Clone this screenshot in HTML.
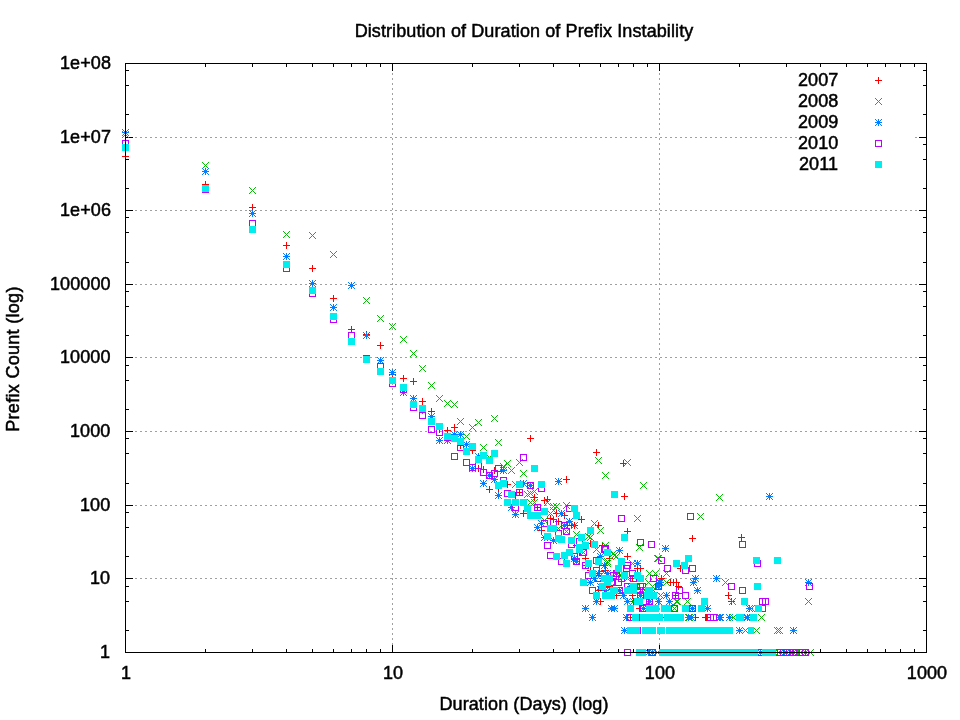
<!DOCTYPE html>
<html><head><meta charset="utf-8"><title>Distribution of Duration of Prefix Instability</title>
<style>
html,body{margin:0;padding:0;background:#fff;}
body{width:960px;height:720px;position:relative;overflow:hidden;font-family:"Liberation Sans",sans-serif;font-size:18.00px;color:#000;letter-spacing:0.1px;-webkit-text-stroke:0.5px #000;}
div{will-change:transform;}
</style></head><body>
<svg width="960" height="720" viewBox="0 0 960 720" shape-rendering="crispEdges" style="position:absolute;left:0;top:0">
<defs>
<g id="p"><rect x="-3" y="0" width="7" height="1"/><rect x="0" y="-3" width="1" height="7"/></g>
<g id="x"><rect x="-3" y="-3" width="1" height="1"/><rect x="-3" y="3" width="1" height="1"/><rect x="-2" y="-2" width="1" height="1"/><rect x="-2" y="2" width="1" height="1"/><rect x="-1" y="-1" width="1" height="1"/><rect x="-1" y="1" width="1" height="1"/><rect x="0" y="0" width="1" height="1"/><rect x="0" y="0" width="1" height="1"/><rect x="1" y="1" width="1" height="1"/><rect x="1" y="-1" width="1" height="1"/><rect x="2" y="2" width="1" height="1"/><rect x="2" y="-2" width="1" height="1"/><rect x="3" y="3" width="1" height="1"/><rect x="3" y="-3" width="1" height="1"/></g>
<g id="s"><use href="#p"/><use href="#x"/></g>
<g id="o"><rect x="-3" y="-3" width="7" height="1"/><rect x="-3" y="3" width="7" height="1"/><rect x="-3" y="-3" width="1" height="7"/><rect x="3" y="-3" width="1" height="7"/></g>
<g id="f"><rect x="-3" y="-3" width="7" height="7"/></g>
</defs>
<g stroke="#a0a0a0" stroke-width="1" stroke-dasharray="2 3" fill="none"><line x1="125" y1="578.5" x2="926" y2="578.5"/><line x1="125" y1="505.5" x2="926" y2="505.5"/><line x1="125" y1="431.5" x2="926" y2="431.5"/><line x1="125" y1="357.5" x2="926" y2="357.5"/><line x1="125" y1="284.5" x2="926" y2="284.5"/><line x1="125" y1="210.5" x2="926" y2="210.5"/><line x1="125" y1="137.5" x2="926" y2="137.5"/><line x1="392.5" y1="63" x2="392.5" y2="652"/><line x1="659.5" y1="63" x2="659.5" y2="652"/></g>
<rect x="798" y="137" width="117" height="1" fill="#fff"/>
<g fill="#000"><rect x="125" y="652" width="8" height="1"/><rect x="919" y="652" width="8" height="1"/><rect x="125" y="630" width="4" height="1"/><rect x="923" y="630" width="4" height="1"/><rect x="125" y="601" width="4" height="1"/><rect x="923" y="601" width="4" height="1"/><rect x="125" y="586" width="4" height="1"/><rect x="923" y="586" width="4" height="1"/><rect x="125" y="578" width="8" height="1"/><rect x="919" y="578" width="8" height="1"/><rect x="125" y="556" width="4" height="1"/><rect x="923" y="556" width="4" height="1"/><rect x="125" y="527" width="4" height="1"/><rect x="923" y="527" width="4" height="1"/><rect x="125" y="512" width="4" height="1"/><rect x="923" y="512" width="4" height="1"/><rect x="125" y="505" width="8" height="1"/><rect x="919" y="505" width="8" height="1"/><rect x="125" y="483" width="4" height="1"/><rect x="923" y="483" width="4" height="1"/><rect x="125" y="453" width="4" height="1"/><rect x="923" y="453" width="4" height="1"/><rect x="125" y="438" width="4" height="1"/><rect x="923" y="438" width="4" height="1"/><rect x="125" y="431" width="8" height="1"/><rect x="919" y="431" width="8" height="1"/><rect x="125" y="409" width="4" height="1"/><rect x="923" y="409" width="4" height="1"/><rect x="125" y="380" width="4" height="1"/><rect x="923" y="380" width="4" height="1"/><rect x="125" y="365" width="4" height="1"/><rect x="923" y="365" width="4" height="1"/><rect x="125" y="357" width="8" height="1"/><rect x="919" y="357" width="8" height="1"/><rect x="125" y="335" width="4" height="1"/><rect x="923" y="335" width="4" height="1"/><rect x="125" y="306" width="4" height="1"/><rect x="923" y="306" width="4" height="1"/><rect x="125" y="291" width="4" height="1"/><rect x="923" y="291" width="4" height="1"/><rect x="125" y="284" width="8" height="1"/><rect x="919" y="284" width="8" height="1"/><rect x="125" y="262" width="4" height="1"/><rect x="923" y="262" width="4" height="1"/><rect x="125" y="232" width="4" height="1"/><rect x="923" y="232" width="4" height="1"/><rect x="125" y="217" width="4" height="1"/><rect x="923" y="217" width="4" height="1"/><rect x="125" y="210" width="8" height="1"/><rect x="919" y="210" width="8" height="1"/><rect x="125" y="188" width="4" height="1"/><rect x="923" y="188" width="4" height="1"/><rect x="125" y="159" width="4" height="1"/><rect x="923" y="159" width="4" height="1"/><rect x="125" y="144" width="4" height="1"/><rect x="923" y="144" width="4" height="1"/><rect x="125" y="137" width="8" height="1"/><rect x="919" y="137" width="8" height="1"/><rect x="125" y="114" width="4" height="1"/><rect x="923" y="114" width="4" height="1"/><rect x="125" y="85" width="4" height="1"/><rect x="923" y="85" width="4" height="1"/><rect x="125" y="70" width="4" height="1"/><rect x="923" y="70" width="4" height="1"/><rect x="125" y="63" width="8" height="1"/><rect x="919" y="63" width="8" height="1"/><rect x="125" y="645" width="1" height="8"/><rect x="125" y="63" width="1" height="8"/><rect x="205" y="649" width="1" height="4"/><rect x="205" y="63" width="1" height="4"/><rect x="252" y="649" width="1" height="4"/><rect x="252" y="63" width="1" height="4"/><rect x="286" y="649" width="1" height="4"/><rect x="286" y="63" width="1" height="4"/><rect x="312" y="649" width="1" height="4"/><rect x="312" y="63" width="1" height="4"/><rect x="333" y="649" width="1" height="4"/><rect x="333" y="63" width="1" height="4"/><rect x="351" y="649" width="1" height="4"/><rect x="351" y="63" width="1" height="4"/><rect x="366" y="649" width="1" height="4"/><rect x="366" y="63" width="1" height="4"/><rect x="380" y="649" width="1" height="4"/><rect x="380" y="63" width="1" height="4"/><rect x="392" y="645" width="1" height="8"/><rect x="392" y="63" width="1" height="8"/><rect x="472" y="649" width="1" height="4"/><rect x="472" y="63" width="1" height="4"/><rect x="519" y="649" width="1" height="4"/><rect x="519" y="63" width="1" height="4"/><rect x="553" y="649" width="1" height="4"/><rect x="553" y="63" width="1" height="4"/><rect x="579" y="649" width="1" height="4"/><rect x="579" y="63" width="1" height="4"/><rect x="600" y="649" width="1" height="4"/><rect x="600" y="63" width="1" height="4"/><rect x="618" y="649" width="1" height="4"/><rect x="618" y="63" width="1" height="4"/><rect x="633" y="649" width="1" height="4"/><rect x="633" y="63" width="1" height="4"/><rect x="647" y="649" width="1" height="4"/><rect x="647" y="63" width="1" height="4"/><rect x="659" y="645" width="1" height="8"/><rect x="659" y="63" width="1" height="8"/><rect x="739" y="649" width="1" height="4"/><rect x="739" y="63" width="1" height="4"/><rect x="786" y="649" width="1" height="4"/><rect x="786" y="63" width="1" height="4"/><rect x="820" y="649" width="1" height="4"/><rect x="820" y="63" width="1" height="4"/><rect x="846" y="649" width="1" height="4"/><rect x="846" y="63" width="1" height="4"/><rect x="867" y="649" width="1" height="4"/><rect x="867" y="63" width="1" height="4"/><rect x="885" y="649" width="1" height="4"/><rect x="885" y="63" width="1" height="4"/><rect x="900" y="649" width="1" height="4"/><rect x="900" y="63" width="1" height="4"/><rect x="914" y="649" width="1" height="4"/><rect x="914" y="63" width="1" height="4"/><rect x="926" y="645" width="1" height="8"/><rect x="926" y="63" width="1" height="8"/></g>
<g fill="#ff0000"><use href="#p" x="125" y="156"/><use href="#p" x="205" y="184"/><use href="#p" x="252" y="207"/><use href="#p" x="286" y="245"/><use href="#p" x="312" y="268"/><use href="#p" x="333" y="298"/><use href="#p" x="351" y="329"/><use href="#p" x="366" y="334"/><use href="#p" x="380" y="345"/><use href="#p" x="392" y="374"/><use href="#p" x="403" y="378"/><use href="#p" x="413" y="381"/><use href="#p" x="422" y="401"/><use href="#p" x="431" y="411"/><use href="#p" x="439" y="429"/><use href="#p" x="447" y="430"/><use href="#p" x="454" y="427"/><use href="#p" x="460" y="445"/><use href="#p" x="472" y="450"/><use href="#p" x="478" y="468"/><use href="#p" x="483" y="469"/><use href="#p" x="489" y="489"/><use href="#p" x="494" y="470"/><use href="#p" x="498" y="488"/><use href="#p" x="503" y="470"/><use href="#p" x="507" y="484"/><use href="#p" x="515" y="495"/><use href="#p" x="519" y="492"/><use href="#p" x="523" y="513"/><use href="#p" x="530" y="438"/><use href="#p" x="534" y="497"/><use href="#p" x="537" y="507"/><use href="#p" x="541" y="530"/><use href="#p" x="544" y="500"/><use href="#p" x="547" y="499"/><use href="#p" x="550" y="518"/><use href="#p" x="553" y="519"/><use href="#p" x="556" y="513"/><use href="#p" x="558" y="521"/><use href="#p" x="564" y="515"/><use href="#p" x="566" y="479"/><use href="#p" x="571" y="525"/><use href="#p" x="581" y="519"/><use href="#p" x="596" y="452"/><use href="#p" x="598" y="525"/><use href="#p" x="623" y="463"/><use href="#p" x="624" y="496"/><use href="#p" x="627" y="531"/><use href="#p" x="574" y="525"/><use href="#p" x="590" y="543"/><use href="#p" x="602" y="545"/><use href="#p" x="585" y="558"/><use href="#p" x="609" y="558"/><use href="#p" x="605" y="570"/><use href="#p" x="609" y="586"/><use href="#p" x="627" y="556"/><use href="#p" x="640" y="568"/><use href="#p" x="637" y="568"/><use href="#p" x="632" y="578"/><use href="#p" x="661" y="578"/><use href="#p" x="673" y="582"/><use href="#p" x="676" y="582"/><use href="#p" x="678" y="586"/><use href="#p" x="680" y="568"/><use href="#p" x="692" y="538"/><use href="#p" x="741" y="537"/><use href="#p" x="728" y="595"/><use href="#p" x="731" y="601"/><use href="#p" x="670" y="582"/><use href="#p" x="675" y="595"/><use href="#p" x="669" y="601"/><use href="#p" x="600" y="601"/><use href="#p" x="616" y="595"/><use href="#p" x="632" y="595"/><use href="#p" x="619" y="590"/><use href="#p" x="633" y="601"/><use href="#p" x="598" y="590"/><use href="#p" x="594" y="578"/><use href="#p" x="590" y="570"/><use href="#p" x="579" y="552"/><use href="#p" x="576" y="545"/><use href="#p" x="585" y="565"/><use href="#p" x="630" y="617"/><use href="#p" x="639" y="617"/><use href="#p" x="648" y="617"/><use href="#p" x="664" y="617"/><use href="#p" x="695" y="617"/><use href="#p" x="705" y="617"/><use href="#p" x="706" y="617"/><use href="#p" x="637" y="630"/><use href="#p" x="725" y="630"/><use href="#p" x="739" y="630"/><use href="#p" x="639" y="608"/></g>
<g fill="#00c000"><use href="#x" x="125" y="134"/><use href="#x" x="205" y="165"/><use href="#x" x="252" y="190"/><use href="#x" x="286" y="234"/><use href="#x" x="312" y="235"/><use href="#x" x="333" y="254"/><use href="#x" x="351" y="285"/><use href="#x" x="366" y="300"/><use href="#x" x="380" y="318"/><use href="#x" x="392" y="326"/><use href="#x" x="403" y="339"/><use href="#x" x="413" y="353"/><use href="#x" x="422" y="368"/><use href="#x" x="431" y="385"/><use href="#x" x="439" y="398"/><use href="#x" x="447" y="403"/><use href="#x" x="454" y="404"/><use href="#x" x="460" y="421"/><use href="#x" x="466" y="436"/><use href="#x" x="472" y="427"/><use href="#x" x="478" y="422"/><use href="#x" x="483" y="447"/><use href="#x" x="489" y="457"/><use href="#x" x="494" y="418"/><use href="#x" x="498" y="442"/><use href="#x" x="503" y="466"/><use href="#x" x="507" y="463"/><use href="#x" x="511" y="470"/><use href="#x" x="515" y="484"/><use href="#x" x="519" y="462"/><use href="#x" x="523" y="473"/><use href="#x" x="527" y="494"/><use href="#x" x="530" y="493"/><use href="#x" x="534" y="491"/><use href="#x" x="598" y="460"/><use href="#x" x="605" y="475"/><use href="#x" x="627" y="462"/><use href="#x" x="637" y="518"/><use href="#x" x="643" y="485"/><use href="#x" x="530" y="502"/><use href="#x" x="534" y="502"/><use href="#x" x="547" y="502"/><use href="#x" x="553" y="506"/><use href="#x" x="556" y="506"/><use href="#x" x="566" y="505"/><use href="#x" x="553" y="510"/><use href="#x" x="550" y="513"/><use href="#x" x="544" y="520"/><use href="#x" x="558" y="528"/><use href="#x" x="566" y="531"/><use href="#x" x="574" y="525"/><use href="#x" x="594" y="523"/><use href="#x" x="600" y="530"/><use href="#x" x="576" y="534"/><use href="#x" x="588" y="536"/><use href="#x" x="590" y="537"/><use href="#x" x="605" y="545"/><use href="#x" x="583" y="552"/><use href="#x" x="596" y="549"/><use href="#x" x="607" y="563"/><use href="#x" x="607" y="561"/><use href="#x" x="614" y="555"/><use href="#x" x="613" y="553"/><use href="#x" x="616" y="556"/><use href="#x" x="639" y="547"/><use href="#x" x="658" y="558"/><use href="#x" x="657" y="558"/><use href="#x" x="632" y="563"/><use href="#x" x="649" y="573"/><use href="#x" x="655" y="573"/><use href="#x" x="666" y="573"/><use href="#x" x="648" y="582"/><use href="#x" x="652" y="586"/><use href="#x" x="666" y="582"/><use href="#x" x="640" y="590"/><use href="#x" x="660" y="595"/><use href="#x" x="677" y="601"/><use href="#x" x="676" y="601"/><use href="#x" x="687" y="601"/><use href="#x" x="674" y="608"/><use href="#x" x="619" y="590"/><use href="#x" x="633" y="601"/><use href="#x" x="627" y="601"/><use href="#x" x="700" y="516"/><use href="#x" x="719" y="497"/><use href="#x" x="725" y="582"/><use href="#x" x="808" y="601"/><use href="#x" x="810" y="652"/><use href="#x" x="732" y="601"/><use href="#x" x="749" y="608"/><use href="#x" x="688" y="617"/><use href="#x" x="691" y="617"/><use href="#x" x="689" y="617"/><use href="#x" x="600" y="575"/><use href="#x" x="604" y="578"/><use href="#x" x="611" y="586"/><use href="#x" x="621" y="575"/><use href="#x" x="627" y="578"/><use href="#x" x="636" y="586"/><use href="#x" x="644" y="590"/><use href="#x" x="653" y="590"/><use href="#x" x="733" y="617"/><use href="#x" x="747" y="617"/><use href="#x" x="761" y="617"/><use href="#x" x="746" y="617"/><use href="#x" x="745" y="630"/><use href="#x" x="756" y="630"/><use href="#x" x="777" y="630"/><use href="#x" x="779" y="630"/><use href="#x" x="778" y="652"/><use href="#x" x="782" y="652"/><use href="#x" x="786" y="652"/><use href="#x" x="790" y="652"/><use href="#x" x="795" y="652"/><use href="#x" x="800" y="652"/><use href="#x" x="805" y="652"/><use href="#x" x="657" y="652"/><use href="#x" x="751" y="608"/></g>
<g fill="#0080ff"><use href="#s" x="125" y="132"/><use href="#s" x="205" y="171"/><use href="#s" x="252" y="213"/><use href="#s" x="286" y="256"/><use href="#s" x="312" y="283"/><use href="#s" x="333" y="307"/><use href="#s" x="351" y="285"/><use href="#s" x="366" y="335"/><use href="#s" x="380" y="360"/><use href="#s" x="392" y="372"/><use href="#s" x="403" y="392"/><use href="#s" x="413" y="398"/><use href="#s" x="422" y="410"/><use href="#s" x="431" y="416"/><use href="#s" x="439" y="440"/><use href="#s" x="447" y="440"/><use href="#s" x="454" y="434"/><use href="#s" x="460" y="434"/><use href="#s" x="466" y="444"/><use href="#s" x="472" y="468"/><use href="#s" x="478" y="456"/><use href="#s" x="483" y="483"/><use href="#s" x="489" y="475"/><use href="#s" x="494" y="479"/><use href="#s" x="498" y="495"/><use href="#s" x="503" y="470"/><use href="#s" x="511" y="507"/><use href="#s" x="515" y="514"/><use href="#s" x="523" y="483"/><use href="#s" x="530" y="485"/><use href="#s" x="537" y="527"/><use href="#s" x="541" y="523"/><use href="#s" x="544" y="537"/><use href="#s" x="553" y="540"/><use href="#s" x="558" y="481"/><use href="#s" x="561" y="513"/><use href="#s" x="564" y="525"/><use href="#s" x="569" y="521"/><use href="#s" x="619" y="550"/><use href="#s" x="637" y="563"/><use href="#s" x="665" y="548"/><use href="#s" x="574" y="558"/><use href="#s" x="576" y="561"/><use href="#s" x="600" y="556"/><use href="#s" x="598" y="573"/><use href="#s" x="590" y="582"/><use href="#s" x="594" y="578"/><use href="#s" x="616" y="573"/><use href="#s" x="585" y="608"/><use href="#s" x="592" y="617"/><use href="#s" x="596" y="601"/><use href="#s" x="611" y="608"/><use href="#s" x="614" y="608"/><use href="#s" x="626" y="617"/><use href="#s" x="624" y="630"/><use href="#s" x="627" y="601"/><use href="#s" x="623" y="595"/><use href="#s" x="619" y="590"/><use href="#s" x="643" y="608"/><use href="#s" x="640" y="595"/><use href="#s" x="649" y="601"/><use href="#s" x="658" y="601"/><use href="#s" x="669" y="601"/><use href="#s" x="666" y="595"/><use href="#s" x="658" y="586"/><use href="#s" x="660" y="582"/><use href="#s" x="659" y="582"/><use href="#s" x="693" y="582"/><use href="#s" x="695" y="578"/><use href="#s" x="697" y="590"/><use href="#s" x="692" y="608"/><use href="#s" x="707" y="608"/><use href="#s" x="688" y="617"/><use href="#s" x="691" y="617"/><use href="#s" x="716" y="578"/><use href="#s" x="769" y="496"/><use href="#s" x="808" y="582"/><use href="#s" x="793" y="630"/><use href="#s" x="652" y="652"/><use href="#s" x="749" y="608"/><use href="#s" x="684" y="630"/><use href="#s" x="706" y="630"/><use href="#s" x="739" y="630"/><use href="#s" x="719" y="617"/><use href="#s" x="729" y="617"/><use href="#s" x="720" y="617"/><use href="#s" x="747" y="617"/><use href="#s" x="760" y="652"/><use href="#s" x="790" y="652"/><use href="#s" x="797" y="652"/><use href="#s" x="784" y="652"/><use href="#s" x="648" y="652"/><use href="#s" x="604" y="565"/><use href="#s" x="607" y="573"/><use href="#s" x="611" y="578"/><use href="#s" x="600" y="586"/><use href="#s" x="605" y="590"/><use href="#s" x="630" y="586"/><use href="#s" x="633" y="590"/><use href="#s" x="602" y="578"/></g>
<g fill="#c000ff"><use href="#o" x="125" y="143"/><use href="#o" x="205" y="189"/><use href="#o" x="252" y="223"/><use href="#o" x="286" y="268"/><use href="#o" x="312" y="293"/><use href="#o" x="333" y="319"/><use href="#o" x="351" y="335"/><use href="#o" x="366" y="358"/><use href="#o" x="380" y="366"/><use href="#o" x="392" y="383"/><use href="#o" x="403" y="389"/><use href="#o" x="413" y="407"/><use href="#o" x="422" y="415"/><use href="#o" x="431" y="429"/><use href="#o" x="439" y="432"/><use href="#o" x="447" y="437"/><use href="#o" x="454" y="456"/><use href="#o" x="460" y="447"/><use href="#o" x="466" y="462"/><use href="#o" x="472" y="467"/><use href="#o" x="478" y="465"/><use href="#o" x="483" y="472"/><use href="#o" x="489" y="475"/><use href="#o" x="494" y="473"/><use href="#o" x="498" y="468"/><use href="#o" x="503" y="480"/><use href="#o" x="507" y="493"/><use href="#o" x="515" y="507"/><use href="#o" x="519" y="492"/><use href="#o" x="523" y="457"/><use href="#o" x="530" y="485"/><use href="#o" x="537" y="507"/><use href="#o" x="541" y="488"/><use href="#o" x="544" y="523"/><use href="#o" x="547" y="545"/><use href="#o" x="553" y="522"/><use href="#o" x="558" y="533"/><use href="#o" x="564" y="525"/><use href="#o" x="566" y="531"/><use href="#o" x="569" y="508"/><use href="#o" x="571" y="544"/><use href="#o" x="621" y="518"/><use href="#o" x="640" y="542"/><use href="#o" x="550" y="555"/><use href="#o" x="561" y="561"/><use href="#o" x="574" y="556"/><use href="#o" x="576" y="561"/><use href="#o" x="579" y="541"/><use href="#o" x="583" y="552"/><use href="#o" x="604" y="549"/><use href="#o" x="605" y="548"/><use href="#o" x="596" y="560"/><use href="#o" x="585" y="565"/><use href="#o" x="602" y="568"/><use href="#o" x="588" y="575"/><use href="#o" x="592" y="590"/><use href="#o" x="616" y="573"/><use href="#o" x="618" y="582"/><use href="#o" x="627" y="565"/><use href="#o" x="626" y="568"/><use href="#o" x="632" y="573"/><use href="#o" x="627" y="586"/><use href="#o" x="642" y="586"/><use href="#o" x="640" y="586"/><use href="#o" x="607" y="590"/><use href="#o" x="619" y="590"/><use href="#o" x="651" y="544"/><use href="#o" x="661" y="560"/><use href="#o" x="667" y="568"/><use href="#o" x="653" y="578"/><use href="#o" x="658" y="586"/><use href="#o" x="679" y="590"/><use href="#o" x="675" y="595"/><use href="#o" x="685" y="595"/><use href="#o" x="640" y="595"/><use href="#o" x="645" y="601"/><use href="#o" x="649" y="601"/><use href="#o" x="643" y="608"/><use href="#o" x="674" y="608"/><use href="#o" x="692" y="608"/><use href="#o" x="690" y="516"/><use href="#o" x="685" y="570"/><use href="#o" x="692" y="568"/><use href="#o" x="742" y="544"/><use href="#o" x="757" y="563"/><use href="#o" x="809" y="586"/><use href="#o" x="710" y="617"/><use href="#o" x="713" y="617"/><use href="#o" x="706" y="630"/><use href="#o" x="724" y="630"/><use href="#o" x="731" y="586"/><use href="#o" x="742" y="590"/><use href="#o" x="762" y="601"/><use href="#o" x="765" y="601"/><use href="#o" x="762" y="608"/><use href="#o" x="627" y="652"/><use href="#o" x="652" y="652"/><use href="#o" x="630" y="617"/><use href="#o" x="637" y="630"/><use href="#o" x="630" y="608"/><use href="#o" x="596" y="570"/><use href="#o" x="598" y="578"/><use href="#o" x="611" y="582"/><use href="#o" x="613" y="575"/><use href="#o" x="621" y="578"/><use href="#o" x="633" y="578"/><use href="#o" x="637" y="590"/><use href="#o" x="645" y="590"/><use href="#o" x="777" y="652"/><use href="#o" x="780" y="652"/><use href="#o" x="783" y="652"/><use href="#o" x="786" y="652"/><use href="#o" x="789" y="652"/><use href="#o" x="793" y="652"/><use href="#o" x="796" y="652"/><use href="#o" x="799" y="652"/><use href="#o" x="802" y="652"/><use href="#o" x="805" y="652"/><use href="#o" x="760" y="652"/></g>
<g fill="#00eeee"><use href="#f" x="125" y="147"/><use href="#f" x="205" y="188"/><use href="#f" x="252" y="229"/><use href="#f" x="286" y="264"/><use href="#f" x="312" y="290"/><use href="#f" x="333" y="316"/><use href="#f" x="351" y="341"/><use href="#f" x="366" y="359"/><use href="#f" x="380" y="371"/><use href="#f" x="392" y="380"/><use href="#f" x="403" y="387"/><use href="#f" x="413" y="404"/><use href="#f" x="422" y="408"/><use href="#f" x="431" y="421"/><use href="#f" x="439" y="426"/><use href="#f" x="447" y="436"/><use href="#f" x="454" y="438"/><use href="#f" x="460" y="441"/><use href="#f" x="466" y="451"/><use href="#f" x="472" y="446"/><use href="#f" x="478" y="459"/><use href="#f" x="483" y="455"/><use href="#f" x="489" y="460"/><use href="#f" x="494" y="453"/><use href="#f" x="498" y="485"/><use href="#f" x="503" y="483"/><use href="#f" x="507" y="502"/><use href="#f" x="511" y="494"/><use href="#f" x="515" y="502"/><use href="#f" x="519" y="484"/><use href="#f" x="523" y="502"/><use href="#f" x="527" y="508"/><use href="#f" x="530" y="515"/><use href="#f" x="534" y="468"/><use href="#f" x="537" y="515"/><use href="#f" x="541" y="484"/><use href="#f" x="544" y="511"/><use href="#f" x="547" y="536"/><use href="#f" x="550" y="528"/><use href="#f" x="553" y="528"/><use href="#f" x="556" y="556"/><use href="#f" x="558" y="538"/><use href="#f" x="561" y="539"/><use href="#f" x="564" y="555"/><use href="#f" x="566" y="563"/><use href="#f" x="569" y="552"/><use href="#f" x="571" y="540"/><use href="#f" x="574" y="508"/><use href="#f" x="576" y="515"/><use href="#f" x="579" y="549"/><use href="#f" x="581" y="537"/><use href="#f" x="583" y="582"/><use href="#f" x="585" y="545"/><use href="#f" x="588" y="563"/><use href="#f" x="590" y="530"/><use href="#f" x="592" y="573"/><use href="#f" x="594" y="544"/><use href="#f" x="596" y="595"/><use href="#f" x="598" y="561"/><use href="#f" x="607" y="552"/><use href="#f" x="614" y="494"/><use href="#f" x="618" y="568"/><use href="#f" x="621" y="561"/><use href="#f" x="624" y="537"/><use href="#f" x="579" y="547"/><use href="#f" x="602" y="586"/><use href="#f" x="604" y="578"/><use href="#f" x="609" y="578"/><use href="#f" x="607" y="582"/><use href="#f" x="605" y="595"/><use href="#f" x="609" y="595"/><use href="#f" x="611" y="595"/><use href="#f" x="614" y="590"/><use href="#f" x="613" y="590"/><use href="#f" x="624" y="575"/><use href="#f" x="637" y="575"/><use href="#f" x="640" y="578"/><use href="#f" x="633" y="586"/><use href="#f" x="627" y="590"/><use href="#f" x="633" y="590"/><use href="#f" x="630" y="608"/><use href="#f" x="637" y="601"/><use href="#f" x="639" y="601"/><use href="#f" x="648" y="590"/><use href="#f" x="649" y="590"/><use href="#f" x="676" y="563"/><use href="#f" x="688" y="558"/><use href="#f" x="684" y="565"/><use href="#f" x="756" y="560"/><use href="#f" x="777" y="560"/><use href="#f" x="704" y="601"/><use href="#f" x="744" y="601"/><use href="#f" x="757" y="586"/><rect x="636" y="649" width="10" height="7"/><rect x="659" y="649" width="37" height="7"/><rect x="696" y="649" width="62" height="7"/><rect x="762" y="649" width="14" height="7"/><rect x="627" y="627" width="13" height="7"/><rect x="642" y="627" width="14" height="7"/><rect x="657" y="627" width="8" height="7"/><rect x="666" y="627" width="67" height="7"/><rect x="748" y="627" width="6" height="7"/><rect x="632" y="614" width="7" height="7"/><rect x="640" y="614" width="8" height="7"/><rect x="648" y="614" width="15" height="7"/><rect x="664" y="614" width="20" height="7"/><rect x="736" y="614" width="8" height="7"/><rect x="750" y="614" width="7" height="7"/><rect x="646" y="605" width="13" height="7"/><rect x="661" y="605" width="10" height="7"/><rect x="682" y="605" width="7" height="7"/><rect x="698" y="605" width="7" height="7"/><rect x="755" y="605" width="7" height="7"/><rect x="644" y="592" width="13" height="7"/></g>
<use href="#p" x="878" y="80" fill="#ff0000"/>
<use href="#x" x="878" y="101" fill="#00c000"/>
<use href="#s" x="878" y="122" fill="#0080ff"/>
<use href="#o" x="878" y="143" fill="#c000ff"/>
<use href="#f" x="878" y="164" fill="#00eeee"/>
<rect x="125.5" y="63.5" width="801" height="589" fill="none" stroke="#000" stroke-width="1"/>
</svg>
<div style="position:absolute;white-space:nowrap;line-height:20px;height:20px;top:641.8px;right:849.4px;text-align:right;">1</div>
<div style="position:absolute;white-space:nowrap;line-height:20px;height:20px;top:567.8px;right:849.4px;text-align:right;">10</div>
<div style="position:absolute;white-space:nowrap;line-height:20px;height:20px;top:494.8px;right:849.4px;text-align:right;">100</div>
<div style="position:absolute;white-space:nowrap;line-height:20px;height:20px;top:420.8px;right:849.4px;text-align:right;">1000</div>
<div style="position:absolute;white-space:nowrap;line-height:20px;height:20px;top:346.8px;right:849.4px;text-align:right;">10000</div>
<div style="position:absolute;white-space:nowrap;line-height:20px;height:20px;top:273.8px;right:849.4px;text-align:right;">100000</div>
<div style="position:absolute;white-space:nowrap;line-height:20px;height:20px;top:199.8px;right:849.4px;text-align:right;">1e+06</div>
<div style="position:absolute;white-space:nowrap;line-height:20px;height:20px;top:126.8px;right:849.4px;text-align:right;">1e+07</div>
<div style="position:absolute;white-space:nowrap;line-height:20px;height:20px;top:52.8px;right:849.4px;text-align:right;">1e+08</div>
<div style="position:absolute;white-space:nowrap;line-height:20px;height:20px;top:662.9px;left:125.6px;width:600px;margin-left:-300px;text-align:center;">1</div>
<div style="position:absolute;white-space:nowrap;line-height:20px;height:20px;top:662.9px;left:392.6px;width:600px;margin-left:-300px;text-align:center;">10</div>
<div style="position:absolute;white-space:nowrap;line-height:20px;height:20px;top:662.9px;left:659.6px;width:600px;margin-left:-300px;text-align:center;">100</div>
<div style="position:absolute;white-space:nowrap;line-height:20px;height:20px;top:662.9px;left:926.6px;width:600px;margin-left:-300px;text-align:center;">1000</div>
<div style="position:absolute;white-space:nowrap;line-height:20px;height:20px;top:69.6px;right:121.6px;text-align:right;">2007</div>
<div style="position:absolute;white-space:nowrap;line-height:20px;height:20px;top:90.6px;right:121.6px;text-align:right;">2008</div>
<div style="position:absolute;white-space:nowrap;line-height:20px;height:20px;top:111.6px;right:121.6px;text-align:right;">2009</div>
<div style="position:absolute;white-space:nowrap;line-height:20px;height:20px;top:132.6px;right:121.6px;text-align:right;">2010</div>
<div style="position:absolute;white-space:nowrap;line-height:20px;height:20px;top:153.6px;right:121.6px;text-align:right;">2011</div>
<div style="position:absolute;white-space:nowrap;line-height:20px;height:20px;top:20.7px;left:524.3px;width:600px;margin-left:-300px;text-align:center;">Distribution of Duration of Prefix Instability</div>
<div style="position:absolute;white-space:nowrap;line-height:20px;height:20px;top:693.5px;left:524.2px;width:600px;margin-left:-300px;text-align:center;">Duration (Days) (log)</div>
<div style="position:absolute;white-space:nowrap;line-height:20px;height:20px;width:300px;text-align:center;left:-137.0px;top:348.5px;transform:rotate(-90deg);transform-origin:50% 50%;letter-spacing:0.3px;">Prefix Count (log)</div>
</body></html>
